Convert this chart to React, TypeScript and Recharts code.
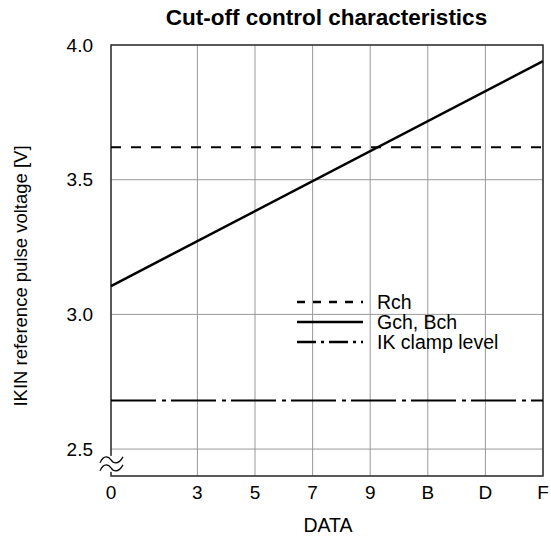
import React from 'react';
import { LineChart, Line, XAxis, YAxis, CartesianGrid, ReferenceLine, ReferenceArea, ReferenceDot } from 'recharts';

// DATA code (hex) on x, IKIN reference pulse voltage [V] on y
const dataCodes = [0, 15];
const gchBchVolts = [3.105, 3.94];
const rchLevel = 3.62;
const ikClampLevel = 2.68;
const xTicks = [0, 3, 5, 7, 9, 11, 13, 15];
const yTicks = [2.5, 3.0, 3.5, 4.0];
const yDomain = [2.4, 4.0];
const legendLabels = ['Rch', 'Gch, Bch', 'IK clamp level'];
const legendDashes = ['8 8', undefined, '19 5 3 5'];

const chartData = dataCodes.map((code, i) => ({ code, gch: gchBchVolts[i] }));

const FONT = '"Liberation Sans", Arial, sans-serif';

// the "≈" axis break at the bottom of the y axis
const AxisBreak = (props: any) => {
  const { cx, cy } = props;
  if (cx == null || cy == null) return null;
  const wave = (dy: number) =>
    `M${cx - 11},${cy + dy + 3} C${cx - 7},${cy + dy - 6} ${cx - 2},${cy + dy - 3} ${cx},${cy + dy} S${cx + 7},${cy + dy + 6} ${cx + 12},${cy + dy - 3}`;
  return (
    <g>
      <rect x={cx - 3} y={cy - 8} width={6} height={16} fill="#fff" />
      <path d={wave(-4)} stroke="#000" strokeWidth={1.2} fill="none" />
      <path d={wave(4)} stroke="#000" strokeWidth={1.2} fill="none" />
    </g>
  );
};

const LegendBox = () => (
  <div style={{ position: 'absolute', left: 297, top: 292, fontSize: 19.5, color: '#000' }}>
    {legendLabels.map((label, i) => (
      <div key={label} style={{ display: 'flex', alignItems: 'center', height: 20 }}>
        <svg width={80} height={20}>
          <line x1={0} x2={66} y1={10} y2={10} stroke="#000" strokeWidth={2.5} strokeDasharray={legendDashes[i]} />
        </svg>
        <span style={{ lineHeight: '20px', whiteSpace: 'nowrap' }}>{label}</span>
      </div>
    ))}
  </div>
);

export default function App() {
  return (
    <div style={{ position: 'relative', width: 551, height: 543, background: '#fff', fontFamily: FONT }}>
      <style>{'body { margin: 0; }'}</style>
      <div style={{ position: 'absolute', left: 111, top: 5, width: 431, textAlign: 'center', fontWeight: 'bold', fontSize: 22.5, lineHeight: '26px', whiteSpace: 'nowrap' }}>
        Cut-off control characteristics
      </div>
      <div style={{ position: 'absolute', left: 21, top: 276, transform: 'translate(-50%, -50%) rotate(-90deg)', whiteSpace: 'nowrap', fontSize: 18.5 }}>
        IKIN reference pulse voltage [V]
      </div>
      <div style={{ position: 'absolute', left: 328, top: 525, transform: 'translate(-50%, -50%)', fontSize: 19.5 }}>
        DATA
      </div>
      <LineChart width={551} height={543} data={chartData} margin={{ top: 45, right: 8, bottom: 37, left: 51 }}>
        <CartesianGrid stroke="#999" strokeWidth={1} />
        <XAxis
          type="number"
          dataKey="code"
          domain={[0, 15]}
          ticks={xTicks}
          tickFormatter={(v: number) => v.toString(16).toUpperCase()}
          height={30}
          tickSize={0}
          tickMargin={10}
          axisLine={false}
          tick={{ fill: '#000', fontSize: 19, fontFamily: FONT }}
          interval={0}
        />
        <YAxis
          type="number"
          domain={yDomain}
          ticks={yTicks}
          tickFormatter={(v: number) => v.toFixed(1)}
          width={60}
          tickSize={0}
          tickMargin={18}
          axisLine={false}
          tick={{ fill: '#000', fontSize: 19, fontFamily: FONT }}
          interval={0}
          allowDataOverflow
        />
        <ReferenceArea x1={0} x2={15} y1={yDomain[0]} y2={yDomain[1]} fill="none" stroke="#333" strokeWidth={1.5} fillOpacity={0} />
        <ReferenceLine y={rchLevel} stroke="#000" strokeWidth={2} strokeDasharray="10 10" />
        <ReferenceLine y={ikClampLevel} stroke="#000" strokeWidth={2} strokeDasharray="45 6 4 5" />
        <Line type="linear" dataKey="gch" stroke="#000" strokeWidth={2.5} dot={false} isAnimationActive={false} />
        <ReferenceDot x={0} y={2.445} r={0} shape={AxisBreak} />
      </LineChart>
      <LegendBox />
    </div>
  );
}
